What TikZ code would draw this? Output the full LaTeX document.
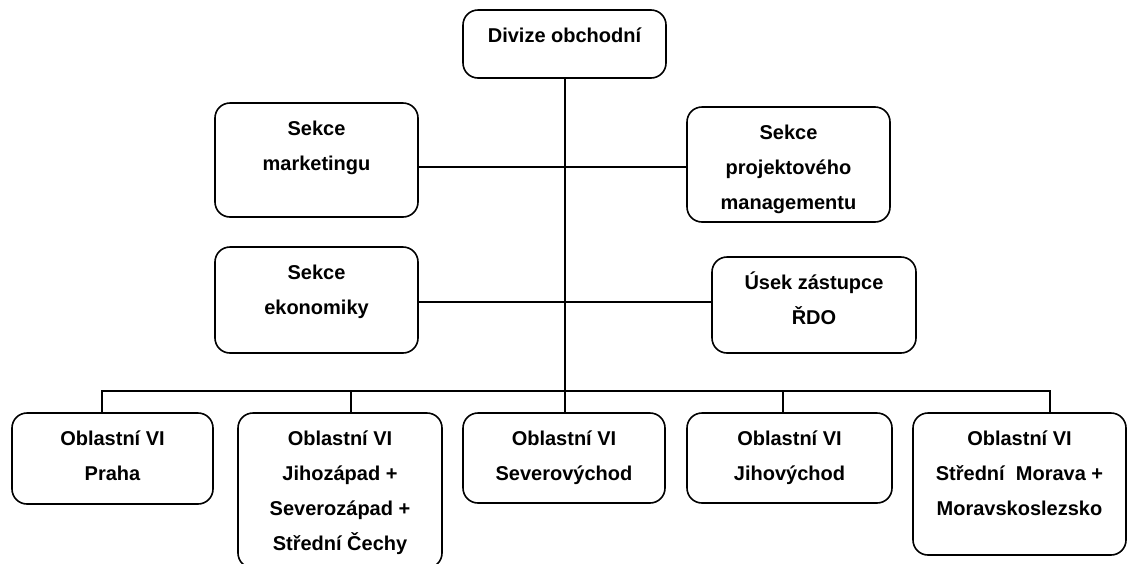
\documentclass[tikz,border=0pt]{standalone}
\usepackage{fontspec}
\setmainfont{Liberation Sans}
\begin{document}
\begin{tikzpicture}[x=1pt,y=-1pt,
  unitbox/.style={draw=black, line width=1.6pt, rounded corners=15pt, inner sep=0pt, fill=white},
  unittext/.style={anchor=base, inner sep=0pt, font=\fontsize{20}{35}\selectfont\bfseries},
  link/.style={draw=black, line width=1.5pt}]
% canvas
\clip (0,0) rectangle (1127,563);
\fill[white] (0,0) rectangle (1127,563);
% one organisational unit: name, left, top, right, bottom, text
\newcommand{\orgunit}[6]{%
  \node[unitbox, minimum width={#4-#2}, minimum height={#5-#3}] (#1) at ({(#2+#4)/2},{(#3+#5)/2}) {};
  \node[unittext] (#1-t) at ({(#2+#4)/2},{#3+32}) {\begin{tabular}[t]{@{}c@{}}#6\end{tabular}};
}
% junction points
\coordinate (cross1) at (565,167);
\coordinate (cross2) at (565,302);
\coordinate (busL) at (102,391);
\coordinate (busJZ) at (351,391);
\coordinate (busJV) at (783,391);
\coordinate (busR) at (1050,391);

\orgunit{div}{463}{10}{666}{78}{Divize obchodní}
\orgunit{mkt}{215}{103}{418}{217}{Sekce\\marketingu}
\orgunit{prj}{687}{107}{890}{222}{Sekce\\projektového\\managementu}
\orgunit{eko}{215}{247}{418}{353}{Sekce\\ekonomiky}
\orgunit{usk}{712}{257}{916}{353}{Úsek zástupce\\ŘDO}
\orgunit{pra}{12}{413}{213}{504}{Oblastní VI\\Praha}
\orgunit{jz}{238}{413}{442}{568}{Oblastní VI\\Jihozápad +\\Severozápad +\\Střední Čechy}
\orgunit{sv}{463}{413}{665}{503}{Oblastní VI\\Severovýchod}
\orgunit{jv}{687}{413}{892}{503}{Oblastní VI\\Jihovýchod}
\orgunit{smm}{913}{413}{1126}{555}{Oblastní VI\\Střední\ \ Morava +\\Moravskoslezsko}

% trunk from the division down to the regional bus
\draw[link] (div.south -| cross1) -- (sv.north -| cross1);
% staff sections
\draw[link] (mkt.east |- cross1) -- (prj.west |- cross1);
\draw[link] (eko.east |- cross2) -- (usk.west |- cross2);
% regional bus and drops
\draw[link] (busL |- pra.north) -- (busL) -- (busR) -- (busR |- smm.north);
\draw[link] (busJZ) -- (busJZ |- jz.north);
\draw[link] (busJV) -- (busJV |- jv.north);
\end{tikzpicture}
\end{document}
